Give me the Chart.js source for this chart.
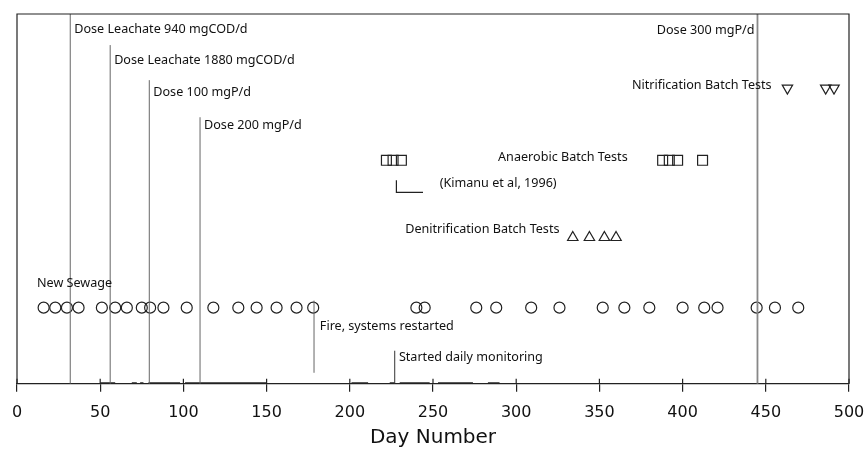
<!DOCTYPE html>
<html>
<head>
<meta charset="utf-8">
<script src="https://cdn.jsdelivr.net/npm/chart.js@4.4.0/dist/chart.umd.min.js"></script>
<style>
  html, body { margin: 0; padding: 0; background: #fff; }
</style>
</head>
<body>
<canvas id="timeline" width="865" height="451"></canvas>
<script>
// ---- data (days) ----
const sewageDays = [16, 23, 30, 37, 51, 59, 66, 75, 80, 88, 102, 118, 133, 144, 156, 168, 178,
                    240, 245, 276, 288, 309, 326, 352, 365, 380, 400, 413, 421, 444.5, 455.5, 469.5];
const nitrificationDays = [463, 486, 491];
const denitrificationDays = [334, 344, 353, 360];
const anaerobicDays = [388, 392, 397, 412];
const kimanuDays = [222, 226, 231];
const kimanuSpan = [228, 244];
const doseDays = [32, 56, 79.5, 110, 445];
const doseLabels = ["Dose Leachate 940 mgCOD/d", "Dose Leachate 1880 mgCOD/d", "Dose 100 mgP/d", "Dose 200 mgP/d", "Dose 300 mgP/d"];
const fireDay = 178.5;
const monitoringDay = 227;
const samplingSpans = [[50, 59], [69, 72], [74, 76], [79, 98], [101, 150], [201, 211], [224, 227], [230, 248], [253, 274], [283, 290]];
const xTicks = [0, 50, 100, 150, 200, 250, 300, 350, 400, 450, 500];
const xTitle = "Day Number";

// row heights on the hidden vertical scale (0 = axis, 369 = frame top)
const ROW = {
  top: 369, sewage: 76, sewageLabel: 100,
  nitri: 295, nitriLabel: 298,
  anaer: 223, anaerLabel: 226,
  kimTop: 203, kimBottom: 191, kimLabel: 200,
  denit: 146, denitLabel: 154,
  fireTop: 83, fireBottom: 11, fireLabel: 57,
  monTop: 33, monLabel: 26
};
const doseTops = [369, 338, 303, 266, 369];
const doseLabelRows = [354, 323, 291, 258, 353];

const INK = '#222';
const TEXT_FONT = '12.6px "Noto Sans"';

function markers(days, row, style, rot, r){
  return {
    data: days.map(d => ({x: d, y: row})),
    pointStyle: style, rotation: rot || 0, pointRadius: r,
    borderColor: INK, borderWidth: 1.2, backgroundColor: 'rgba(0,0,0,0)', showLine: false
  };
}
function segment(pts, color, width){
  return {
    data: pts.map(p => ({x: p[0], y: p[1]})),
    showLine: true, pointRadius: 0, borderColor: color, borderWidth: width, fill: false
  };
}

const datasets = [];
doseDays.forEach((d, i) => {
  datasets.push(segment([[d, 0], [d, doseTops[i]]], i == 4 ? '#888' : '#666', i == 4 ? 1.8 : 1));
});
datasets.push(segment([[fireDay, ROW.fireBottom], [fireDay, ROW.fireTop]], '#666', 1));
datasets.push(segment([[monitoringDay, 0], [monitoringDay, ROW.monTop]], '#333', 1));
datasets.push(segment([[kimanuSpan[0], ROW.kimTop], [kimanuSpan[0], ROW.kimBottom], [kimanuSpan[1], ROW.kimBottom]], INK, 1.2));
samplingSpans.forEach(s => datasets.push(segment([[s[0], 0], [s[1], 0]], INK, 3)));
datasets.push(markers(sewageDays, ROW.sewage, 'circle', 0, 5.5));
datasets.push(markers(nitrificationDays, ROW.nitri, 'triangle', 180, 6));
datasets.push(markers(denitrificationDays, ROW.denit, 'triangle', 0, 6));
datasets.push(markers(anaerobicDays, ROW.anaer, 'rect', 0, 7));
datasets.push(markers(kimanuDays, ROW.anaer, 'rect', 0, 7));

// labels: [text, day, row, align]
const labels = [
  ["New Sewage", 12, ROW.sewageLabel, 'left'],
  ["Nitrification Batch Tests", 453.5, ROW.nitriLabel, 'right'],
  ["Anaerobic Batch Tests", 367, ROW.anaerLabel, 'right'],
  ["Denitrification Batch Tests", 326, ROW.denitLabel, 'right'],
  ["(Kimanu et al, 1996)", 254, ROW.kimLabel, 'left'],
  ["Fire, systems restarted", 182, ROW.fireLabel, 'left'],
  ["Started daily monitoring", 229.5, ROW.monLabel, 'left']
];
doseDays.forEach((d, i) => {
  labels.push([doseLabels[i], i == 4 ? d - 1.8 : d + 2.4, doseLabelRows[i], i == 4 ? 'right' : 'left']);
});

const framePlugin = {
  id: 'frame',
  afterDatasetsDraw(chart){
    const {ctx, chartArea: a, scales} = chart;
    ctx.save();
    ctx.strokeStyle = INK;
    ctx.lineWidth = 1.2;
    ctx.beginPath();
    ctx.moveTo(a.left, a.bottom); ctx.lineTo(a.left, a.top);
    ctx.lineTo(a.right, a.top); ctx.lineTo(a.right, a.bottom);
    ctx.stroke();
    // ticks poke above the axis too
    xTicks.forEach(t => {
      const px = scales.x.getPixelForValue(t);
      ctx.beginPath(); ctx.moveTo(px, a.bottom - 5); ctx.lineTo(px, a.bottom); ctx.stroke();
    });
    ctx.fillStyle = '#111';
    ctx.font = TEXT_FONT;
    ctx.textBaseline = 'middle';
    labels.forEach(l => {
      ctx.textAlign = l[3];
      ctx.fillText(l[0], scales.x.getPixelForValue(l[1]), scales.y.getPixelForValue(l[2]));
    });
    // axis title drawn here so it sits close under the tick labels
    ctx.font = '20px "DejaVu Sans"';
    ctx.textAlign = 'center';
    ctx.fillText(xTitle, (a.left + a.right) / 2, a.bottom + 54);
    ctx.restore();
  }
};

new Chart(document.getElementById('timeline'), {
  type: 'scatter',
  data: { datasets: datasets },
  options: {
    responsive: false,
    animation: false,
    devicePixelRatio: 1,
    layout: { padding: { left: 17, right: 16, top: 14, bottom: 18 } },
    plugins: { legend: { display: false }, tooltip: { enabled: false } },
    scales: {
      x: {
        type: 'linear', min: 0, max: 500,
        afterBuildTicks: s => { s.ticks = xTicks.map(v => ({value: v})); },
        afterFit: s => { s.paddingLeft = 0; s.paddingRight = 0; },
        ticks: { color: '#111', padding: 11, maxRotation: 0, font: { family: 'DejaVu Sans', size: 16 } },
        grid: { drawOnChartArea: false, tickLength: 8, color: INK, lineWidth: 1.2 },
        border: { color: INK, width: 1.2 }
      },
      y: { display: false, min: 0, max: ROW.top }
    }
  },
  plugins: [framePlugin]
});
</script>
</body>
</html>
